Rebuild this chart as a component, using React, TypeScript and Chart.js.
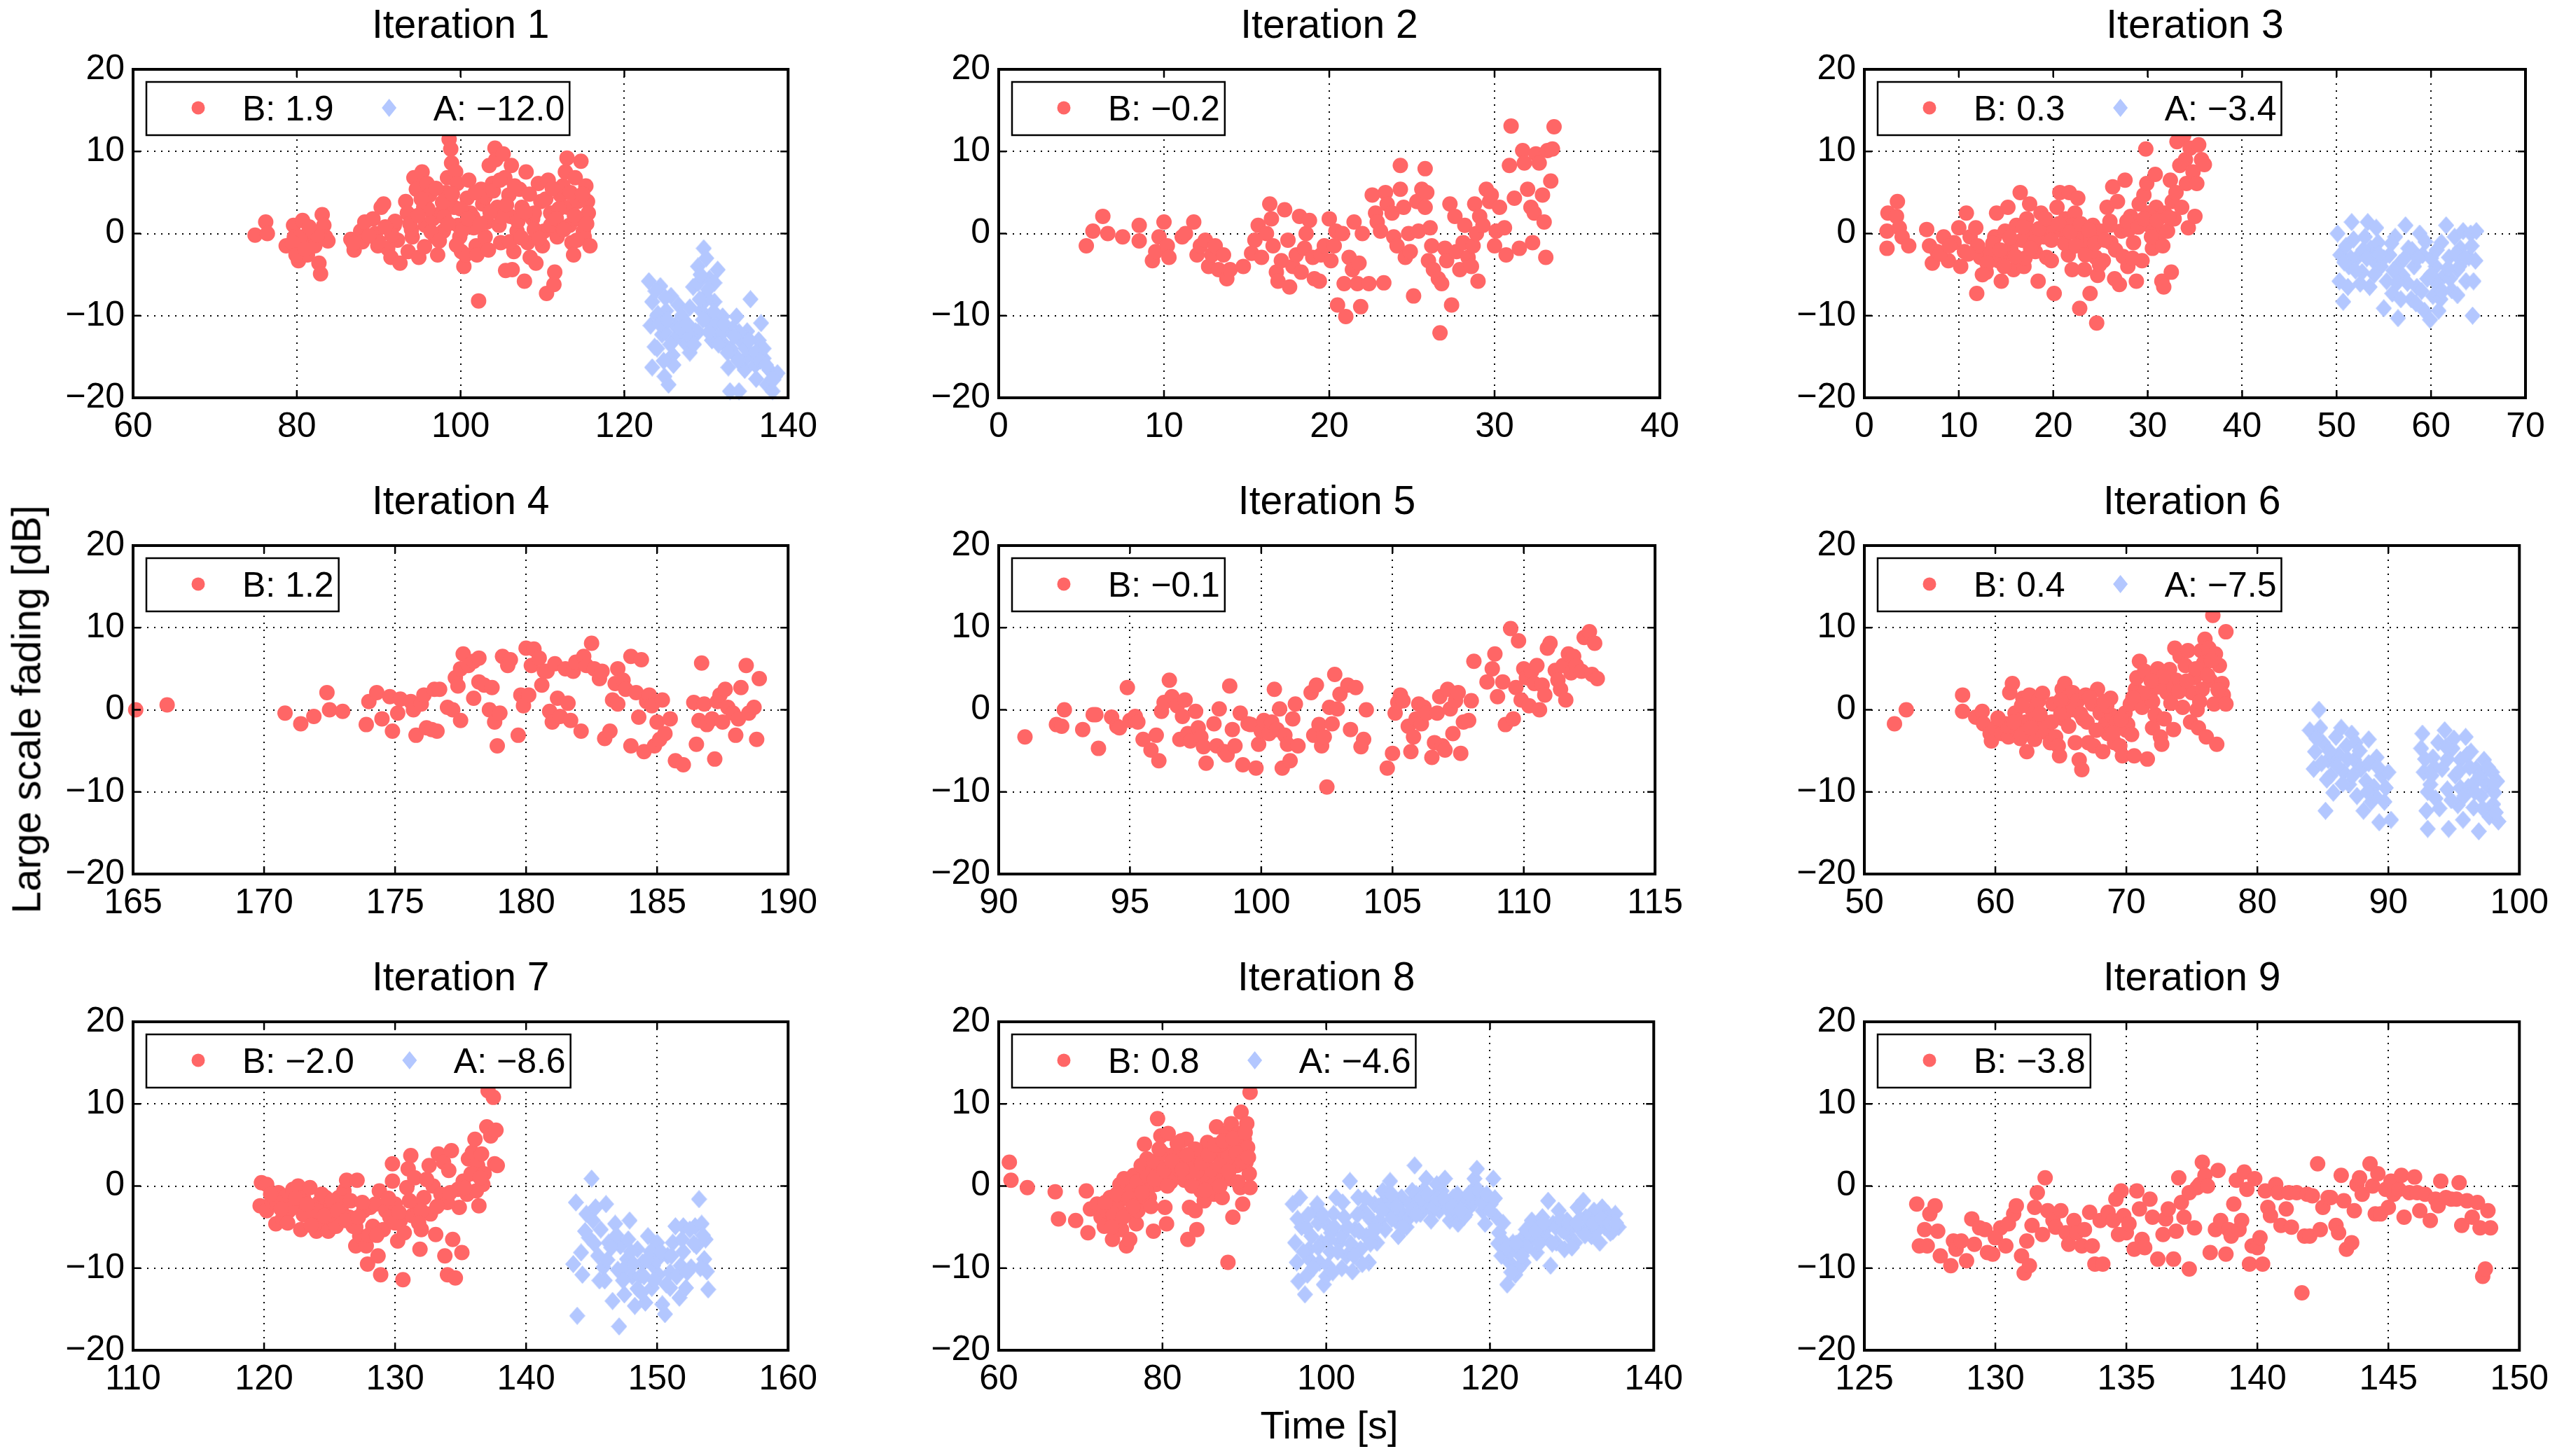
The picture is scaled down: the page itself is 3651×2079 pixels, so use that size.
import { useEffect, useRef } from "react";
import { Chart, registerables, type ChartConfiguration, type Plugin } from "chart.js";

Chart.register(...registerables);

const FONT = '"Liberation Sans", Arial, Helvetica, sans-serif';
const RED = "rgb(255,102,102)";
const BLUE = "rgb(179,199,255)";

// ---- data ----
const titles = ["Iteration 1", "Iteration 2", "Iteration 3", "Iteration 4", "Iteration 5", "Iteration 6", "Iteration 7", "Iteration 8", "Iteration 9"];
const xMins = [60, 0, 0, 165, 90, 50, 110, 60, 125];
const xMaxs = [140, 40, 70, 190, 115, 100, 160, 140, 150];
const xSteps = [20, 10, 10, 5, 5, 10, 10, 20, 5];
const yTicks = [-20, -10, 0, 10, 20];
const bMeans = [1.9, -0.2, 0.3, 1.2, -0.1, 0.4, -2.0, 0.8, -3.8];
const aMeans: (number | null)[] = [-12.0, null, -3.4, null, null, -7.5, -8.6, -4.6, null];

type Pt = [number, number];

const it1B: Pt[] = [
  [74.9, -0.2], [76.2, 1.4], [76.4, 0], [78.7, -1.5], [79.6, 1.0], [79.7, -0.4], [80.0, -1.8], [80.2, -3.3], [80.7, 1.6], [81.0, -0.8],
  [81.3, -2.6], [81.8, 0.3], [82.2, -1.5], [82.7, -3.6], [82.9, -4.9], [83.1, 2.3], [83.3, 1.0], [83.5, -0.4], [83.8, -0.9], [80.4, -0.4], [79.5, -1.1],
  [86.6, -0.7], [87.0, -2.0], [87.8, 0.3], [88.3, 1.4], [89.3, 1.8], [89.6, 0], [89.9, -1.5], [90.3, 3.2], [90.6, 3.6], [91.1, -1.8],
  [91.5, -2.9], [91.9, 1.0], [92.3, -0.8], [92.6, -3.6], [93.3, 3.9], [93.5, 2.5], [93.6, -2.2], [94.1, -0.4], [94.3, 6.8], [94.6, 5.4],
  [94.9, -2.9], [95.3, 7.5], [95.5, 3.2], [95.7, 1.0], [95.9, 6.1], [96.2, 4.7], [96.6, 1.8], [96.9, -0.4], [97.2, -2.6], [97.6, 2.5],
  [97.9, 0.3], [98.2, 5.0], [98.4, 6.8], [98.6, 11.5], [98.8, 10.3], [98.9, 8.6], [99.2, 3.2], [99.4, 7.5], [99.6, 6.1], [99.7, 1.0],
  [99.9, -0.4], [100.1, -2.2], [100.4, -4.0], [100.6, -2.6], [100.8, 4.3], [101.0, 6.5], [101.2, 2.5], [101.6, 0.7], [101.9, -1.5], [102.2, -8.2],
  [102.5, 5.4], [102.7, 3.6], [103.0, -0.4], [103.2, 1.4], [103.5, 8.3], [103.9, 6.1], [104.2, 10.4], [104.3, 9.0], [104.5, 3.2], [104.7, 1.0],
  [104.9, -1.1], [105.2, 9.7], [105.4, 6.8], [105.5, -4.5], [105.9, 4.7], [106.1, 2.1], [106.2, 8.3], [106.3, -4.4], [106.5, -2.2], [106.9, 0.3],
  [107.2, 5.4], [107.5, 3.2], [107.8, -5.8], [108.0, 7.5], [108.2, -1.1], [108.5, -2.9], [108.8, 1.8], [109.2, -3.6], [109.5, 6.1], [109.8, 3.9],
  [110.2, 0.3], [110.5, -7.3], [110.7, 6.5], [111.0, 2.5], [111.4, -6.2], [111.5, -4.7], [111.8, -0.4], [112.2, 4.7], [112.5, 5.8], [112.8, 7.5],
  [113.0, 9.2], [113.1, 3.2], [113.3, 1.0], [113.6, -1.1], [113.8, -2.6], [114.0, 6.8], [114.3, 3.9], [114.5, 1.8], [114.7, 8.8], [115.0, 0.3],
  [115.1, -0.4], [115.3, 5.8], [115.5, 3.9], [115.6, 2.5], [115.8, -1.5],
  [100.0, 3.0], [101.5, 2.0], [103.0, 4.5], [105.0, 2.0], [107.0, 1.5], [109.0, 2.5], [111.0, 1.0], [112.0, 3.0], [106.0, -1.0], [110.0, -1.5],
  [98.0, 2.0], [96.0, 3.0], [94.0, 0.5], [92.0, 1.5], [90.0, -1.0], [88.0, -1.0],
  [93.8, 1.2], [94.8, 2.2], [95.2, 4.2], [96.4, 0.2], [97.0, 5.5], [97.8, 3.8], [98.5, 1.2], [99.0, 4.8], [100.3, 0.5], [100.9, 1.8],
  [101.8, 5.0], [102.4, 1.2], [103.6, 2.6], [104.0, 5.2], [104.8, 6.5], [105.6, 3.5], [106.6, 5.8], [107.4, -0.5], [107.9, 2.6], [108.4, 4.8],
  [109.0, 0.5], [109.6, -0.6], [110.4, 4.2], [111.2, 5.5], [111.7, 1.8], [112.6, 0.5], [113.4, 5.0], [113.9, 2.2], [114.2, -0.8], [114.9, 4.8],
  [115.4, 1.2], [102.0, -2.6], [103.4, -2.0], [99.5, -1.4], [97.4, -0.9], [95.6, -1.6], [91.6, -0.2], [90.8, 0.8], [88.8, -0.3], [86.9, -1.2],
  [82.5, -0.2], [81.5, 0.8], [79.9, -2.6], [81.0, -1.9],
];
const it1A: Pt[] = [
  [123.0, -5.8], [123.2, -11.2], [123.4, -16.3], [123.4, -8.3], [123.7, -13.8], [124.1, -9.8], [124.4, -6.4], [124.6, -12.3], [124.9, -17.4], [125.1, -9.4],
  [125.4, -18.4], [125.7, -7.6], [125.9, -14.8], [126.2, -11.2], [126.6, -8.7], [127.1, -12.3], [127.5, -13.4], [128.0, -14.5], [128.4, -6.5], [128.7, -11.9],
  [129.0, -4.0], [129.4, -9.4], [129.7, -1.8], [129.9, -7.6], [130.0, -10.5], [130.4, -5.5], [130.7, -13.0], [131.0, -8.3], [131.4, -4.4], [131.7, -12.3],
  [132.0, -10.1], [132.4, -13.7], [132.7, -16.3], [132.9, -19.2], [133.2, -11.6], [133.5, -14.8], [133.7, -10.1], [134.0, -19.2], [134.4, -13.3], [134.7, -16.6],
  [135.0, -11.9], [135.4, -8.0], [135.7, -14.8], [136.1, -17.7], [136.4, -13.0], [136.7, -10.9], [137.0, -15.2], [137.4, -18.4], [137.7, -16.6], [138.1, -19.2],
  [138.4, -17.4], [138.7, -17.0],
  [124.0, -10.0], [125.0, -12.0], [126.0, -13.0], [127.0, -10.0], [128.0, -9.0], [129.0, -12.0], [130.0, -8.0], [131.0, -11.0], [132.0, -12.0], [133.0, -14.0],
  [134.0, -12.0], [135.0, -15.0], [136.0, -16.0], [137.0, -14.0], [131.0, -6.0], [130.0, -3.0], [129.0, -6.0], [128.0, -12.5], [126.0, -16.0], [124.0, -14.0],
  [123.8, -7.0], [124.3, -11.0], [125.3, -10.5], [125.6, -13.5], [126.8, -11.5], [127.7, -11.0], [128.5, -13.5], [129.2, -8.0], [129.6, -10.5], [130.3, -12.0],
  [130.9, -9.5], [131.5, -13.5], [132.2, -11.0], [132.6, -14.5], [133.4, -12.5], [133.9, -15.5], [134.8, -14.0], [135.3, -13.0], [136.0, -14.5], [136.6, -15.5],
  [137.3, -16.0], [138.2, -17.8], [124.8, -15.5], [125.0, -7.8], [129.3, -5.0], [130.2, -6.8],
];

const it2B: Pt[] = [
  [5.3, -1.5], [5.7, 0.3], [6.3, 2.1], [6.6, 0], [7.5, -0.4], [8.5, 1.0], [8.5, -0.9], [9.3, -3.3], [9.5, -2.2], [9.7, -0.4],
  [10.0, 1.4], [10.2, -1.5], [10.3, -2.9], [11.1, -0.4], [11.3, 0], [11.8, 1.4], [12.0, -2.6], [12.2, -1.5], [12.5, -0.8], [12.7, -4.0],
  [12.9, -2.6], [13.1, -1.5], [13.3, -4.4], [13.6, -2.6], [13.8, -5.5], [14.0, -4.4], [14.8, -4.0], [15.3, -2.4], [15.5, -0.8], [15.7, 1.0],
  [15.9, -2.9], [16.2, 0], [16.4, 3.6], [16.5, 1.8], [16.6, -1.5], [16.8, -4.7], [16.9, -5.8], [17.1, -3.3], [17.3, 2.9], [17.5, -0.8],
  [17.6, -6.5], [17.8, -4.0], [18.0, -2.6], [18.2, 2.1], [18.3, -4.7], [18.5, -1.8], [18.6, 0], [18.8, 1.6], [19.0, -2.9], [19.1, -5.5],
  [19.4, -5.8], [19.5, -2.6], [19.7, -1.5], [20.0, 1.8], [20.1, -3.3], [20.3, -1.5], [20.4, 0.3], [20.5, -8.7], [20.8, 0], [20.9, -6.1],
  [21.0, -10.1], [21.2, -2.9], [21.4, -4.4], [21.5, 1.4], [21.7, -6.1], [21.8, -3.6], [21.9, -8.9], [22.0, 0], [22.4, -6.1], [22.6, 4.7],
  [22.8, 2.5], [22.9, 1.4], [23.1, 0.3], [23.3, -6.0], [23.4, 5.0], [23.5, 3.6], [23.8, 2.5], [23.9, -0.4], [24.1, -1.5], [24.3, 8.3],
  [24.3, 5.4], [24.5, 3.2], [24.6, -2.9], [24.8, 0], [24.9, -2.2], [25.1, -7.6], [25.3, 3.9], [25.4, 0.3], [25.6, 5.4], [25.8, 3.2],
  [25.8, 7.9], [25.9, 5.0], [26.0, -3.3], [26.1, 0.7], [26.2, -1.5], [26.3, -4.4], [26.6, -5.5], [26.7, -12.1], [26.8, -6.1], [27.0, -1.8],
  [27.1, -3.3], [27.3, 3.6], [27.4, -8.7], [27.6, 2.1], [27.7, -2.2], [27.9, -4.4], [28.1, -1.1], [28.2, 1.0], [28.4, -2.9], [28.6, -4.0],
  [28.7, -1.5], [28.8, 3.6], [28.9, 0], [29.0, -5.8], [29.1, 2.1], [29.3, 1.0], [29.5, 5.4], [29.7, 3.9], [29.8, 4.7], [30.0, -1.5],
  [30.1, 0.3], [30.3, 3.2], [30.6, 0.7], [30.7, -2.6], [30.9, 8.3], [31.0, 13.1], [31.2, 4.3], [31.5, -1.8], [31.7, 10.1], [31.8, 8.6],
  [32.0, 5.4], [32.2, 3.2], [32.3, -1.1], [32.4, 2.5], [32.5, 9.7], [32.7, 8.6], [32.9, 4.7], [33.0, 1.4], [33.1, -2.9], [33.2, 10.1],
  [33.4, 6.4], [33.5, 10.3], [33.6, 13.0],
];

const it3B: Pt[] = [
  [2.4, 0.3], [2.4, -1.8], [2.5, 2.5], [3.4, 2.1], [3.5, 3.9], [3.7, 0.7], [4.0, -0.4], [4.7, -1.5], [6.6, 0.5], [6.9, -1.5],
  [7.2, -3.6], [7.7, -2.2], [8.4, -0.4], [8.9, -3.3], [9.5, -1.1], [10.0, 0.7], [10.2, -4.0], [10.6, -2.2], [10.8, 2.5], [11.2, -0.4],
  [11.8, 0.7], [11.9, -7.3], [12.3, -2.9], [12.9, -4.7], [13.4, -2.2], [13.8, -0.4], [14.0, 2.5], [14.2, -3.3], [14.5, -5.8], [14.9, 0.3],
  [15.2, 3.2], [15.5, -1.8], [15.8, -4.4], [16.1, 1.0], [16.5, 5.0], [16.7, -0.8], [16.9, -4.0], [17.2, 1.8], [17.5, 3.6], [17.8, 0.3],
  [18.1, -2.2], [18.4, -5.8], [18.7, 2.5], [19.0, -0.4], [19.3, -2.9], [19.5, 1.0], [19.8, -3.3], [20.1, -7.3], [20.4, 3.2], [20.7, 5.0],
  [21.0, 0.3], [21.3, 1.8], [21.6, -2.6], [21.7, 5.0], [22.0, -4.4], [22.3, 2.5], [22.6, 4.3], [22.8, -9.1], [23.0, -0.4], [23.3, -4.4],
  [23.6, -1.8], [23.9, -7.3], [24.2, 1.0], [24.5, -2.9], [24.6, -10.9], [24.7, -5.1], [25.0, 0.3], [25.3, -3.3], [25.7, 3.2], [26.1, -1.1],
  [26.3, 5.7], [26.5, -5.5], [26.8, 3.9], [27.0, -6.2], [27.2, 0.3], [27.6, 6.5], [27.9, -4.0], [28.2, 2.1], [28.5, -1.1], [28.8, -5.8],
  [29.1, 3.6], [29.4, -3.3], [29.6, 4.7], [29.8, 10.3], [29.9, 6.1], [30.2, 1.0], [30.5, -1.8], [30.8, 7.2], [30.9, 3.2], [31.3, 0],
  [31.5, -5.8], [31.7, -6.5], [31.8, 2.5], [32.1, 0.3], [32.4, 6.5], [32.5, -4.7], [32.6, 3.9], [32.8, 1.8], [33.0, 5.0], [33.1, 11.2],
  [33.4, 8.3], [33.6, 3.2], [33.8, 11.9], [34.0, 9.0], [34.1, 6.1], [34.3, 0.7], [34.5, 10.4], [34.8, 7.5], [35.0, 2.1], [35.2, 6.1],
  [35.4, 10.8], [35.7, 9.0], [36.0, 8.4],
  [12.0, -1.5], [15.0, -2.5], [18.0, -1.0], [20.0, 0.5], [22.0, 1.0], [24.0, -0.5], [26.0, 1.5], [28.0, 0.5], [30.0, 2.5], [17.0, -3.0],
  [13.0, -3.6], [13.6, -1.2], [14.4, -2.0], [15.4, -0.5], [16.0, -2.8], [16.8, 0.8], [17.6, -1.8], [18.5, 0.6], [19.2, 1.8], [19.8, -0.8],
  [20.6, 1.2], [21.2, -1.2], [21.8, 0.2], [22.4, -1.5], [22.9, 1.2], [23.4, -2.6], [23.8, 0.4], [24.4, -1.2], [24.9, -3.8], [25.5, -0.8],
  [26.0, 1.0], [26.6, -2.0], [27.4, -2.8], [27.8, 1.5], [28.4, -3.0], [29.0, 0.8], [29.6, 1.8], [30.4, -0.4], [31.0, 1.6], [31.6, -1.5],
  [32.2, 2.0], [8.0, -2.5], [9.0, -1.5], [11.0, -2.5], [12.5, -5.0], [14.8, -4.0],
];
const it3A: Pt[] = [
  [50.1, 0], [50.3, -5.8], [50.4, -2.6], [50.7, -8.3], [51.0, -1.5], [51.3, -4.0], [51.6, 1.4], [51.8, -0.7], [52.2, -2.9], [52.5, -6.1],
  [52.7, -4.7], [53.0, -0.4], [53.3, 1.4], [53.6, -1.8], [53.9, -3.3], [54.2, 0.7], [54.4, -1.1], [54.7, -4.0], [55.0, -9.1], [55.3, -5.8],
  [55.6, -2.6], [55.9, -7.3], [56.2, -0.4], [56.5, -10.3], [56.7, -3.6], [57.0, -5.1], [57.3, 1.0], [57.6, -1.8], [57.9, -8.0], [58.2, -4.0],
  [58.5, -6.5], [58.8, 0], [59.1, -2.6], [59.3, -9.4], [59.6, -5.5], [59.9, -10.5], [60.2, -7.6], [60.5, -4.0], [60.8, -9.4], [61.1, -1.1],
  [61.4, -5.1], [61.6, 1.0], [61.9, -2.9], [62.2, -6.9], [62.5, -0.4], [62.8, -4.4], [63.1, -1.8], [63.4, 0.3], [63.7, -5.8], [64.0, -2.9],
  [64.2, 0], [64.4, -10.0], [64.5, -5.8], [64.8, 0.3], [64.7, -3.3],
  [51.5, -3.0], [52.8, -2.0], [54.0, -5.0], [55.0, -3.0], [56.0, -4.5], [57.5, -6.0], [58.0, -2.0], [59.0, -7.0], [60.0, -3.0], [61.0, -8.0],
  [62.0, -5.5], [63.0, -4.0], [60.5, -6.0], [53.5, -6.5],
  [50.8, -3.5], [51.2, -6.5], [52.0, -4.5], [53.2, -3.0], [54.5, -2.5], [55.8, -1.2], [56.4, -6.0], [57.2, -3.0], [58.6, -3.0], [59.4, -1.0],
  [60.0, -5.0], [61.8, -4.2], [62.6, -2.5], [63.6, -3.0], [64.3, -1.5], [61.2, -7.0], [58.4, -8.5], [56.8, -8.0], [62.8, -7.5], [60.6, -2.0],
];

const it4B: Pt[] = [
  [165.1, 0], [166.3, 0.6], [170.8, -0.4], [171.4, -1.7], [171.9, -0.8], [172.4, 2.1], [172.5, 0], [173.0, -0.2], [173.9, -1.8], [174.0, 1.0],
  [174.3, 2.1], [174.5, -1.1], [174.8, 1.6], [174.9, -2.6], [175.1, -0.4], [175.2, 1.3], [175.6, 1.0], [175.7, 0], [175.8, -3.1], [176.0, 0.7],
  [176.1, 1.8], [176.2, -2.2], [176.4, -2.4], [176.5, 2.5], [176.6, -2.6], [176.7, 2.5], [177.0, 0.3], [177.2, 0], [177.3, 3.9], [177.4, 2.9],
  [177.5, -1.3], [177.5, 5.0], [177.6, 6.8], [177.8, 5.4], [178.0, 5.9], [178.0, 1.4], [178.2, 6.3], [178.2, 3.4], [178.4, 3.0], [178.6, 0],
  [178.7, 2.7], [178.8, -1.5], [178.9, -4.4], [179.0, -0.4], [179.1, 6.5], [179.3, 5.4], [179.4, 6.1], [179.7, -3.1], [179.8, 1.8], [179.9, 0.5],
  [180.0, 7.5], [180.1, 1.8], [180.2, 5.4], [180.3, 7.4], [180.5, 6.3], [180.6, 3.0], [180.7, 4.7], [180.8, 4.7], [180.9, -0.2], [181.0, -1.5],
  [181.1, 5.6], [181.2, 1.4], [181.3, -0.8], [181.5, 5.0], [181.6, 0.8], [181.7, -1.3], [181.8, 4.7], [181.9, 5.8], [182.1, -2.6], [182.2, 6.5],
  [182.3, 5.4], [182.5, 8.1], [182.6, 5.0], [182.8, 3.8], [182.9, 4.7], [183.0, -3.5], [183.2, -2.6], [183.3, 1.2], [183.4, 3.2], [183.5, 5.0],
  [183.5, 0.7], [183.7, 3.6], [183.8, 2.5], [184.0, -4.4], [184.0, 6.5], [184.2, 2.1], [184.3, -0.9], [184.4, 6.1], [184.5, -5.1], [184.6, 1.0],
  [184.7, 1.8], [184.8, 0.5], [184.9, -4.4], [185.0, -1.5], [185.1, -3.6], [185.2, 1.2], [185.3, -2.9], [185.5, -1.1], [185.7, -6.2], [186.0, -6.7],
  [186.4, 0.9], [186.5, -4.2], [186.6, -1.3], [186.7, 5.7], [186.8, 0.7], [186.9, -1.8], [187.1, -1.1], [187.2, -6.0], [187.3, 1.0], [187.4, 1.8],
  [187.5, -1.5], [187.6, 2.5], [187.7, 0.3], [187.9, -0.4], [188.0, -3.1], [188.1, -1.1], [188.2, 2.7], [188.4, 5.4], [188.5, -0.4], [188.7, 0.3],
  [188.8, -3.6], [188.9, 3.8],
];

const it5B: Pt[] = [
  [91.0, -3.3], [92.2, -1.8], [92.4, -2.0], [92.5, 0], [93.2, -2.4], [93.6, -0.6], [93.7, -0.6], [93.8, -4.7], [94.3, -0.9], [94.5, -2.0],
  [94.6, -2.2], [94.9, 2.7], [95.0, -1.3], [95.2, -0.8], [95.3, -1.5], [95.5, -3.6], [95.8, -4.9], [96.0, -3.1], [96.1, -6.2], [96.2, -0.2],
  [96.3, 0.9], [96.5, 3.6], [96.6, 1.6], [96.8, 0.5], [96.9, -3.6], [97.0, -0.8], [97.1, 1.2], [97.2, -2.9], [97.3, -3.8], [97.5, -0.2],
  [97.6, -2.2], [97.7, -3.3], [97.8, -4.5], [97.9, -6.5], [98.2, -1.7], [98.3, -4.4], [98.4, 0.1], [98.6, -5.1], [98.7, -5.5], [98.8, 2.9],
  [98.9, -2.4], [99.0, -4.4], [99.2, -0.4], [99.3, -6.7], [99.5, -1.7], [99.6, -1.8], [99.8, -7.1], [99.9, -4.2], [100.0, -2.6], [100.1, -1.3],
  [100.3, -2.9], [100.4, -1.5], [100.5, 2.5], [100.6, -2.4], [100.7, 0.1], [100.8, -7.1], [100.9, -3.1], [101.0, -4.2], [101.1, -6.2], [101.2, -1.1],
  [101.3, 0.7], [101.4, -4.4], [101.9, 2.1], [102.0, -3.1], [102.1, 3.0], [102.2, -1.8], [102.3, -4.4], [102.4, -3.3], [102.5, -9.4], [102.6, 0.3],
  [102.7, -1.7], [102.8, 4.3], [102.9, 0.1], [103.0, 1.9], [103.3, 3.0], [103.4, -2.4], [103.6, 2.7], [103.8, -4.5], [103.9, -3.6], [104.0, 0],
  [104.8, -7.1], [105.0, -5.3], [105.1, -0.4], [105.2, 0.9], [105.3, 1.8], [105.4, 1.1], [105.6, -2.0], [105.7, -5.1], [105.8, -3.3], [105.9, -1.1],
  [106.0, 0.7], [106.1, -1.7], [106.2, 0.3], [106.3, -0.4], [106.5, -5.8], [106.6, -4.0], [106.7, -0.4], [106.8, 1.6], [106.9, -4.4], [107.0, -4.9],
  [107.1, 2.5], [107.2, 0.1], [107.3, -2.9], [107.4, 1.1], [107.5, 2.1], [107.6, -5.3], [107.7, -1.5], [107.9, -1.3], [108.0, 1.1], [108.1, 5.9],
  [108.6, 3.4], [108.8, 5.0], [108.9, 6.8], [109.0, 1.6], [109.2, 3.4], [109.3, -1.8], [109.5, 9.9], [109.6, -1.1], [109.7, 2.7], [109.8, 8.4],
  [109.9, 1.2], [110.0, 5.0], [110.1, 3.9], [110.2, 0.5], [110.3, 4.7], [110.4, 3.2], [110.5, 5.4], [110.6, 0], [110.7, 3.0], [110.8, 1.8],
  [110.9, 7.5], [111.0, 8.1], [111.2, 4.8], [111.3, 3.6], [111.4, 2.5], [111.5, 5.4], [111.6, 1.2], [111.7, 6.8], [111.8, 4.5], [111.9, 6.5],
  [112.0, 5.4], [112.2, 4.7], [112.3, 8.8], [112.5, 9.5], [112.6, 4.3], [112.7, 8.1], [112.8, 3.8],
];

const it6B: Pt[] = [
  [52.3, -1.7], [53.2, 0], [57.5, 1.8], [57.5, -0.2], [58.5, -0.9], [59.0, -0.2], [59.1, -1.7], [59.6, -2.9], [59.7, -3.8], [60.0, -2.2],
  [60.5, -2.9], [60.8, -1.7], [61.0, -3.3], [61.1, 2.1], [61.3, 3.2], [61.5, -0.4], [61.7, -2.6], [61.9, -3.5], [62.1, 1.4], [62.3, -1.5],
  [62.4, -5.1], [62.6, 1.8], [62.8, 0], [63.0, -3.6], [63.1, -1.1], [63.3, 1.1], [63.6, 2.0], [63.8, -1.5], [64.0, -2.9], [64.2, -4.0],
  [64.4, 0.7], [64.6, -3.3], [64.8, -4.4], [64.9, -5.6], [65.1, 2.5], [65.2, -1.1], [65.3, 3.2], [65.5, 0.7], [65.7, 0], [65.9, 2.1],
  [66.1, -4.0], [66.3, 1.1], [66.4, -6.1], [66.6, -7.3], [66.7, -1.1], [66.9, 1.8], [67.1, -4.0], [67.4, 0.7], [67.5, -4.4], [67.8, 2.5],
  [68.0, -0.4], [68.2, -5.1], [68.4, -1.8], [68.6, -2.9], [68.8, 1.4], [68.9, -0.7], [69.1, -4.0], [69.3, -1.5], [69.5, -4.4], [69.7, -5.6],
  [69.9, -0.4], [70.1, -1.8], [70.3, 0.7], [70.6, -5.6], [70.7, 2.5], [70.8, 3.9], [71.0, 5.9], [71.2, 0.3], [71.4, 4.7], [71.6, -6.0],
  [71.8, 1.8], [72.0, -2.2], [72.2, -0.6], [72.4, 5.0], [72.6, -3.3], [72.7, -4.2], [72.9, -1.1], [73.1, 2.1], [73.3, 4.9], [73.6, -2.4],
  [73.7, 7.5], [73.8, 3.6], [74.1, 6.5], [74.3, 0.3], [74.5, 5.4], [74.7, 7.2], [74.9, -1.5], [75.0, 2.1], [75.2, 3.9], [75.4, 0],
  [75.5, -2.2], [75.7, 7.2], [75.8, 2.5], [75.9, 5.7], [76.0, 8.6], [76.1, -3.3], [76.3, 7.5], [76.4, 3.6], [76.6, 11.5], [76.7, 0.7],
  [76.8, 6.8], [76.9, -4.2], [77.1, 5.4], [77.3, 3.2], [77.4, 1.8], [77.6, 9.5], [77.6, 0.7],
  [61.0, -2.0], [62.0, -3.0], [63.5, -2.5], [65.0, -0.5], [66.0, 0], [67.0, -1.5], [68.5, 0.5], [70.0, -2.5], [72.0, 1.0], [73.0, 3.0],
  [60.2, -1.0], [61.4, -1.5], [62.0, 0.5], [62.7, -2.2], [63.4, -0.5], [64.3, -1.5], [65.0, 1.2], [65.6, -2.0], [66.5, -0.5], [67.2, 1.5],
  [67.7, -2.5], [68.3, 1.0], [69.0, -2.8], [69.6, -1.2], [70.4, -3.0], [71.3, 2.0], [72.5, 2.8], [73.4, 0.8], [74.0, 2.2], [74.6, 3.5],
  [75.3, 5.0], [75.6, 1.0], [76.2, 4.2], [76.5, 6.0], [77.0, 2.4], [72.8, 4.0], [71.9, 3.5], [70.5, 1.5],
];
const it6A: Pt[] = [
  [84.7, 0], [84.0, -2.5], [84.3, -7.2], [84.4, -5.1], [84.8, -2.2], [85.0, -4.0], [85.2, -12.3], [85.4, -6.1], [85.6, -8.0], [85.8, -10.1],
  [86.0, -3.3], [86.2, -5.5], [86.4, -2.2], [86.6, -7.6], [86.8, -4.4], [87.0, -9.1], [87.2, -2.9], [87.4, -6.1], [87.6, -10.5], [87.9, -7.2],
  [88.1, -12.3], [88.3, -8.7], [88.5, -3.6], [88.7, -11.2], [88.9, -9.4], [89.1, -5.8], [89.3, -13.7], [89.5, -8.0], [89.7, -11.2], [90.0, -7.6],
  [90.2, -13.4], [92.6, -2.9], [92.5, -4.7], [92.7, -7.6], [92.9, -12.3], [93.0, -14.5], [93.2, -9.1], [93.4, -5.8], [93.6, -10.8], [93.8, -4.0],
  [94.1, -7.2], [94.3, -2.5], [94.5, -9.7], [94.6, -14.5], [94.9, -4.7], [95.1, -8.0], [95.3, -11.6], [95.5, -6.1], [95.7, -13.4], [95.9, -3.3],
  [96.1, -9.4], [96.3, -5.1], [96.5, -11.9], [96.7, -7.2], [96.9, -14.8], [97.1, -10.5], [97.3, -6.1], [97.5, -9.1], [97.7, -13.0], [97.9, -7.6],
  [98.1, -10.1], [98.3, -8.7], [98.4, -13.6],
  [85.5, -5.0], [86.5, -9.0], [87.5, -4.0], [88.5, -6.5], [89.0, -10.5], [93.5, -7.0], [94.5, -6.0], [95.5, -9.5], [96.5, -9.0], [97.0, -8.0],
  [98.0, -11.5], [93.0, -10.0], [95.0, -3.5], [96.0, -5.5],
  [84.5, -3.5], [85.3, -8.5], [86.1, -6.8], [86.9, -6.0], [87.3, -8.0], [87.8, -5.0], [88.4, -10.0], [89.2, -7.0], [89.8, -9.5], [84.9, -6.5],
  [92.8, -6.0], [93.3, -8.0], [93.9, -12.0], [94.4, -4.5], [94.8, -11.0], [95.4, -7.5], [95.8, -10.5], [96.2, -7.0], [96.6, -10.0], [97.2, -12.0],
  [97.6, -7.0], [98.0, -9.0], [98.2, -12.5],
];

const it7B: Pt[] = [
  [119.8, 0.4], [120.2, 0.2], [119.7, -2.4], [120.2, -3.0], [120.6, -1.8], [120.9, -4.6], [121.1, -0.8], [121.4, -4.0], [121.7, -1.2], [121.9, -3.0],
  [122.2, -0.4], [122.5, -2.2], [122.6, 0], [122.8, -5.3], [123.0, -1.4], [123.2, -3.0], [123.5, -0.2], [123.8, -4.1], [124.0, -5.5], [124.2, -2.0],
  [124.5, -4.6], [124.7, -1.4], [124.9, -5.5], [125.1, -2.6], [125.3, -4.2], [125.5, -4.9], [125.7, -1.4], [125.9, -3.0], [126.1, -0.6], [126.3, 0.7],
  [126.5, -3.8], [126.8, -4.9], [127.0, -7.3], [127.1, 0.7], [127.3, -6.1], [127.6, -3.0], [127.8, -7.3], [127.9, -9.5], [128.1, -2.6], [128.3, -4.9],
  [128.5, -2.2], [128.7, -8.5], [128.8, -0.6], [128.9, -10.8], [129.1, -5.3], [129.3, -3.0], [129.6, -3.8], [129.8, 2.7], [129.8, 0.6], [130.0, -2.2],
  [130.2, -6.7], [130.4, -4.2], [130.6, -11.4], [130.7, -5.7], [130.9, -0.2], [131.0, 2.1], [131.2, 3.7], [131.3, -3.6], [131.5, 1.0], [131.7, -2.6],
  [131.9, -7.7], [132.0, -5.3], [132.2, -1.4], [132.6, 2.5], [132.7, -3.4], [132.9, 0], [133.1, -5.9], [133.3, 3.9], [133.5, -1.0], [133.7, 2.9],
  [133.8, -8.5], [134.0, -10.8], [134.1, 1.9], [134.3, 4.3], [134.4, -6.5], [134.6, -11.2], [134.8, -0.4], [134.9, -2.6], [135.1, -8.1], [135.2, 0.6],
  [135.5, -1.0], [135.6, 3.3], [135.9, 4.1], [136.1, 5.7], [136.2, -0.6], [136.3, 2.5], [136.4, -2.4], [136.6, 3.9], [136.7, 0.2], [136.8, 1.5],
  [137.0, 7.2], [137.1, 11.6], [137.3, 6.1], [137.5, 10.8], [137.6, 2.7], [137.7, 6.8], [137.8, 2.5],
  [123.0, -3.5], [124.0, -3.0], [125.0, -3.5], [126.0, -2.0], [122.0, -2.8], [121.0, -2.0], [127.0, -5.0], [128.0, -6.0], [130.0, -4.5], [132.0, -3.0], [134.0, -2.0],
  [120.5, -1.0], [121.3, -2.8], [121.8, -4.5], [122.4, -1.5], [123.3, -2.2], [123.6, -4.8], [124.4, -1.0], [124.6, -3.6], [125.2, -1.8], [125.6, -3.0],
  [126.2, -4.2], [126.6, -1.8], [127.2, -3.8], [127.5, -2.0], [128.6, -6.0], [129.5, -1.5], [130.3, -3.2], [131.1, -1.8], [131.8, -4.5], [132.4, 0.8],
  [133.2, -2.5], [134.2, -0.8], [135.3, -0.2], [135.8, 1.5], [136.5, 1.0],
];
const it7A: Pt[] = [
  [145.0, 0.9], [143.8, -2.0], [143.6, -9.5], [143.9, -15.8], [144.2, -8.1], [144.3, -10.8], [144.6, -3.4], [144.8, -6.3], [145.1, -4.2], [145.3, -2.6],
  [145.5, -8.5], [145.7, -5.3], [145.9, -9.9], [146.1, -2.2], [146.3, -6.9], [146.6, -14.0], [146.8, -4.6], [147.0, -10.2], [147.1, -17.1], [147.2, -7.3],
  [147.5, -13.2], [147.7, -8.9], [147.9, -4.2], [148.1, -11.0], [148.3, -14.6], [148.5, -7.7], [148.7, -11.0], [148.9, -9.3], [149.1, -14.2], [149.3, -6.1],
  [149.6, -12.4], [149.7, -9.7], [150.0, -6.9], [150.1, -10.8], [150.4, -14.4], [150.6, -15.6], [150.8, -8.5], [151.0, -12.4], [151.2, -6.9], [151.4, -4.9],
  [151.7, -13.6], [151.8, -9.7], [152.0, -4.9], [152.2, -12.4], [152.5, -5.3], [152.6, -9.9], [152.9, -4.9], [153.0, -7.3], [153.2, -1.6], [153.4, -4.6],
  [153.6, -8.9], [153.7, -6.5], [153.8, -10.4], [153.9, -12.6],
  [146.5, -7.5], [147.5, -10.0], [148.0, -8.0], [149.0, -11.0], [150.0, -9.0], [151.0, -10.5], [149.5, -8.0], [148.5, -12.5], [152.0, -8.0], [146.0, -11.5],
  [144.5, -5.5], [145.2, -7.0], [145.6, -11.5], [146.2, -9.0], [146.9, -6.0], [147.4, -11.5], [147.8, -6.5], [148.2, -9.5], [148.8, -13.0], [149.2, -9.0],
  [149.8, -11.5], [150.3, -8.0], [150.7, -12.0], [151.1, -8.5], [151.5, -11.0], [151.9, -6.5], [152.3, -10.5], [152.8, -7.0], [153.3, -10.0], [153.5, -6.0],
];

const it8B: Pt[] = [
  [61.3, 2.9], [61.5, 0.7], [63.5, -0.2], [66.9, -0.7], [67.3, -4.0], [69.4, -4.2], [70.7, -0.6], [70.9, -5.7], [71.2, -2.8], [72.0, -2.2],
  [72.5, -3.8], [72.9, -4.9], [73.2, -3.0], [73.6, -1.4], [73.9, -6.5], [74.1, -4.2], [74.5, -2.6], [74.8, 0.2], [75.0, -5.3], [75.3, 0.9],
  [75.6, -7.3], [75.8, -3.4], [76.0, -6.5], [76.2, -0.6], [76.5, 1.3], [76.8, -4.6], [77.0, -1.8], [77.4, 2.5], [77.6, 0.2], [77.8, 5.1],
  [78.1, 3.3], [78.4, -1.4], [78.7, 1.7], [78.9, -5.5], [79.2, 0.2], [79.4, 8.2], [79.5, 2.5], [79.8, 6.1], [80.1, 0.9], [80.3, -2.6],
  [80.5, -4.6], [80.7, 6.4], [80.9, 3.7], [81.7, 4.1], [82.0, 1.3], [82.3, 5.5], [82.7, 0.7], [82.9, 5.7], [83.1, -6.5], [83.3, -2.6],
  [83.5, 3.3], [83.8, 2.5], [84.0, -3.0], [84.2, -5.3], [84.5, 4.1], [84.7, -0.6], [84.9, 0.9], [85.1, -1.8], [85.3, 3.3], [85.5, 5.3],
  [85.8, 1.7], [86.0, 0.2], [86.2, 3.9], [86.3, -1.0], [86.6, 7.2], [86.8, 1.3], [87.1, 4.5], [87.3, -1.4], [87.6, 3.3], [87.8, 6.4],
  [88.0, -9.3], [88.2, 0.9], [88.4, 7.6], [88.6, -3.8], [88.8, 4.9], [89.1, 2.5], [89.3, 6.4], [89.5, -0.2], [89.6, 9.0], [89.8, -2.2],
  [90.0, 5.7], [90.2, 2.9], [90.3, 7.6], [90.4, 4.7], [90.6, 1.5], [90.7, 11.4], [90.7, -0.2],
  [74.0, -3.5], [75.5, -1.5], [77.0, -3.0], [78.0, 0], [79.0, 3.0], [80.0, 4.0], [81.5, 2.0], [83.0, 1.0], [84.0, 4.5], [85.0, 1.5],
  [86.0, 2.0], [87.0, 0], [88.0, 3.5], [89.0, 4.0], [82.0, 3.0], [81.0, 0.5],
  [73.0, -2.0], [73.8, -5.0], [74.4, -1.0], [75.2, -3.8], [75.9, -1.5], [76.4, -2.5], [76.9, 0.5], [77.5, -0.8], [78.2, 1.2], [78.6, -2.5],
  [79.0, 0.8], [79.6, 4.5], [80.2, 2.0], [80.6, 0], [81.2, 3.0], [81.8, 5.2], [82.4, 2.0], [83.0, 3.8], [83.6, 0], [84.2, 1.8],
  [84.8, 2.8], [85.2, -0.5], [85.6, 3.8], [86.4, 5.0], [87.0, 2.5], [87.4, 5.5], [88.1, 1.8], [88.6, 5.8], [89.2, 0.5], [89.8, 3.0],
  [90.1, 6.5], [90.5, 3.5],
];
const it8A: Pt[] = [
  [95.9, -2.2], [96.2, -6.9], [96.4, -9.3], [96.6, -11.6], [96.8, -1.4], [97.0, -5.0], [97.4, -13.2], [97.7, -10.8], [97.9, -7.7], [98.2, -6.1],
  [98.6, -3.0], [98.9, -2.2], [99.2, -9.3], [99.4, -6.9], [99.7, -12.0], [100.0, -4.6], [100.2, -9.7], [100.6, -5.7], [100.9, -3.4], [101.2, -1.4],
  [101.6, -6.9], [101.9, -10.0], [102.2, -3.8], [102.5, -8.5], [102.9, 0.6], [103.2, -10.4], [103.5, -5.3], [103.9, -1.4], [104.2, -7.7], [104.5, -3.0],
  [104.9, -6.1], [105.2, -9.3], [105.5, -4.2], [105.9, -2.2], [106.2, -6.9], [106.5, -4.2], [106.9, -0.6], [107.2, -5.3], [107.5, -3.0], [107.8, 0.6],
  [108.2, -2.2], [108.5, -4.2], [108.8, -6.1], [109.2, -1.4], [109.5, -3.8], [109.8, -5.0], [110.2, -2.2], [110.5, -0.6], [110.8, 2.5], [111.2, -2.2],
  [111.5, -3.4], [111.8, -0.6], [112.2, 0.9], [112.5, -2.2], [112.8, -4.2], [113.1, -1.4], [113.5, 0.2], [113.8, -3.0], [114.1, -0.6], [114.5, 0.9],
  [114.8, -2.2], [115.1, -4.2], [115.5, -1.4], [115.8, -3.0], [116.1, -4.6], [116.5, -2.2], [116.8, -3.8], [117.1, -1.4], [117.5, -2.6], [117.8, -0.6],
  [118.1, 0.9], [118.4, 2.1], [118.8, -1.4], [119.1, -3.0], [119.4, -4.6], [119.8, -1.4], [120.1, -2.2], [120.4, 0.9], [120.8, -3.8], [121.1, -5.7],
  [121.4, -8.5], [121.8, -6.9], [122.1, -12.0], [122.4, -9.3], [122.8, -6.9], [123.1, -10.8], [123.4, -8.1], [123.8, -6.5], [124.1, -9.3], [124.4, -5.3],
  [124.7, -6.9], [125.1, -4.2], [125.4, -6.1], [125.7, -8.1], [126.1, -5.0], [126.4, -3.8], [126.7, -6.1], [127.1, -1.8], [127.4, -9.7], [127.7, -4.6],
  [128.1, -6.9], [128.4, -3.0], [128.7, -5.3], [129.1, -7.7], [129.4, -4.2], [129.7, -6.1], [130.0, -5.0], [130.4, -6.9], [130.7, -2.6], [131.0, -5.3],
  [131.4, -1.8], [131.7, -3.8], [132.0, -5.0], [132.4, -6.1], [132.7, -3.0], [133.0, -4.2], [133.4, -6.9], [133.7, -2.6], [134.0, -5.0], [134.4, -3.4],
  [134.7, -5.7], [135.0, -4.2], [135.3, -3.4], [135.7, -5.0],
  [97.5, -5.0], [98.0, -9.0], [99.0, -4.5], [100.5, -8.0], [101.0, -5.0], [102.0, -6.0], [103.0, -7.0], [104.0, -5.5], [105.0, -3.5], [106.0, -5.0],
  [107.0, -2.0], [108.0, -4.0], [109.0, -3.0], [110.0, -4.0], [111.0, -1.0], [112.0, -2.5], [113.0, -3.0], [114.0, -2.0], [115.0, -3.0], [116.0, -1.0],
  [117.0, -3.5], [118.0, -2.0], [119.0, -2.0], [120.0, -3.0], [121.0, -7.0], [122.5, -8.0], [123.5, -10.0], [124.5, -7.5], [126.0, -7.0], [127.0, -5.0],
  [128.0, -5.0], [129.0, -5.5], [130.0, -7.5], [131.0, -4.0], [132.0, -4.0], [133.0, -5.5], [134.0, -4.0], [135.0, -5.5], [125.0, -5.0], [100.0, -11.0],
  [96.5, -4.0], [97.2, -8.0], [97.8, -3.5], [98.4, -10.0], [99.0, -7.5], [99.6, -3.5], [100.4, -6.5], [100.8, -10.5], [101.4, -8.0], [102.0, -2.0],
  [102.6, -5.0], [103.4, -8.5], [103.8, -3.5], [104.4, -9.5], [104.8, -1.5], [105.4, -7.0], [105.8, -5.5], [106.4, -2.5], [106.8, -3.0], [107.4, -1.0],
  [108.0, -1.0], [108.6, -2.5], [109.4, -5.0], [110.4, -3.0], [111.0, -3.5], [111.6, -1.5], [112.4, -1.0], [113.2, -2.5], [113.6, -1.5], [114.4, -1.5],
  [115.4, -2.5], [116.4, -3.0], [117.4, -1.0], [118.6, -0.5], [119.6, -1.0], [120.6, -1.5], [121.6, -4.5], [122.0, -7.5], [122.6, -10.5], [123.2, -7.0],
  [123.9, -8.5], [124.6, -5.5], [125.6, -5.5], [126.6, -4.5], [127.6, -7.0], [128.6, -4.0], [129.6, -4.5], [130.6, -4.5], [131.6, -6.0], [132.6, -4.5],
  [133.6, -4.0], [134.6, -4.5], [135.4, -4.5],
];

const it9B: Pt[] = [
  [127.0, -2.2], [127.1, -7.3], [127.3, -5.3], [127.4, -7.3], [127.5, -3.4], [127.7, -2.4], [127.8, -5.5], [127.9, -8.5], [128.3, -9.7], [128.4, -6.7],
  [128.5, -7.7], [128.7, -6.7], [128.9, -9.1], [129.1, -4.0], [129.2, -7.1], [129.4, -5.1], [129.6, -5.3], [129.7, -8.1], [129.9, -8.3], [130.0, -6.3],
  [130.2, -5.1], [130.4, -7.3], [130.5, -4.6], [130.7, -3.4], [130.8, -2.4], [131.0, -8.5], [131.1, -10.6], [131.2, -6.7], [131.3, -9.7], [131.4, -4.8],
  [131.5, -2.6], [131.6, -0.8], [131.8, -5.9], [131.9, 1.0], [132.0, -3.0], [132.2, -4.2], [132.3, -5.0], [132.5, -3.0], [132.7, -5.7], [132.8, -7.1],
  [133.0, -4.2], [133.1, -5.7], [133.3, -7.3], [133.4, -5.3], [133.6, -3.2], [133.7, -7.3], [133.8, -9.5], [134.0, -4.2], [134.1, -9.5], [134.3, -3.2],
  [134.5, -4.2], [134.6, -1.6], [134.7, -5.9], [134.8, -0.6], [134.9, -3.6], [135.0, -5.7], [135.1, -4.6], [135.3, -7.7], [135.4, -0.6], [135.5, -2.8],
  [135.6, -6.5], [135.7, -7.5], [135.9, -1.6], [136.0, -3.8], [136.2, -8.9], [136.4, -5.9], [136.5, -4.0], [136.6, -2.8], [136.8, -8.9], [136.9, -5.5],
  [137.0, 1.0], [137.1, -2.0], [137.2, -3.8], [137.4, -10.1], [137.4, -0.8], [137.6, -5.1], [137.7, -0.2], [137.8, 0.2], [137.9, 2.9], [138.0, 1.3],
  [138.1, 0], [138.2, -8.1], [138.4, -5.3], [138.5, 1.9], [138.6, -4.2], [138.8, -8.3], [138.9, -5.3], [139.0, -6.1], [139.1, -2.2], [139.2, 0.7],
  [139.3, -5.3], [139.4, -4.2], [139.5, 1.7], [139.6, -0.4], [139.7, -9.5], [139.8, -7.3], [139.9, 0.9], [140.0, -7.5], [140.1, -6.3], [140.2, -9.5],
  [140.3, -0.6], [140.4, -2.6], [140.5, -3.6], [140.7, 0.2], [140.8, -0.8], [140.9, -4.8], [141.1, -2.8], [141.2, -0.8], [141.3, -5.0], [141.5, -0.8],
  [141.7, -13.0], [141.8, -6.1], [141.9, -1.0], [142.0, -6.1], [142.1, -1.2], [142.3, 2.7], [142.4, -5.3], [142.5, -2.6], [142.7, -1.4], [142.8, -1.4],
  [143.0, -4.8], [143.1, -5.7], [143.2, 1.3], [143.3, -1.8], [143.4, -7.7], [143.6, -6.9], [143.7, -3.0], [143.8, 0.2], [143.9, 1.0], [144.0, -1.0],
  [144.3, 2.7], [144.4, 0], [144.5, -3.4], [144.6, 1.5], [144.7, -3.4], [144.9, -0.4], [145.0, -2.6], [145.1, 0.6], [145.2, -1.0], [145.4, -0.4],
  [145.5, 1.3], [145.6, -3.8], [145.8, -0.8], [146.0, 1.1], [146.1, -0.8], [146.2, -3.0], [146.4, -1.0], [146.6, -4.2], [146.8, -1.6], [146.9, -2.4],
  [147.0, 0.6], [147.2, -1.4], [147.4, -1.6], [147.6, -1.6], [147.7, 0.4], [147.8, -4.8], [148.0, -1.8], [148.2, -3.8], [148.4, -2.0], [148.5, -5.1],
  [148.6, -11.0], [148.7, -10.1], [148.8, -3.0], [148.9, -5.1],
];

const bSeries: Pt[][] = [it1B, it2B, it3B, it4B, it5B, it6B, it7B, it8B, it9B];
const aSeries: (Pt[] | null)[] = [it1A, null, it3A, null, null, it6A, it7A, it8A, null];

// ---- layout ----
const PLOT_LEFT = [190, 1426, 2662];
const PLOT_TOP = [99, 779, 1459];
const PLOT_W = 944;
const PLOT_H = 469;
const PAD_L = 180;
const PAD_T = 99;
const PAD_R = 45;
const PAD_B = 110;
const CANVAS_W = PAD_L + PLOT_W + PAD_R;
const CANVAS_H = PAD_T + PLOT_H + PAD_B;

const minus = (v: number) => (v < 0 ? "\u2212" + Math.abs(v) : String(v));
const fmtMean = (v: number) => (v < 0 ? "\u2212" : "") + Math.abs(v).toFixed(1);

let diamondImg: HTMLCanvasElement | null = null;
function getDiamond() {
  if (!diamondImg) {
    const w = 23, h = 26;
    const c = document.createElement("canvas");
    c.width = w;
    c.height = h;
    const g = c.getContext("2d")!;
    g.fillStyle = BLUE;
    g.beginPath();
    g.moveTo(w / 2, 0);
    g.lineTo(w, h / 2);
    g.lineTo(w / 2, h);
    g.lineTo(0, h / 2);
    g.closePath();
    g.fill();
    diamondImg = c;
  }
  return diamondImg;
}

// box around the axes with inward tick marks, like the original
const framePlugin: Plugin<"scatter"> = {
  id: "frame",
  afterDatasetsDraw(chart) {
    const { ctx, chartArea: a, scales } = chart;
    const tl = 11;
    ctx.save();
    ctx.strokeStyle = "#000";
    ctx.lineWidth = 2.5;
    ctx.beginPath();
    for (const t of scales.x.ticks) {
      const px = scales.x.getPixelForValue(t.value);
      ctx.moveTo(px, a.bottom);
      ctx.lineTo(px, a.bottom - tl);
      ctx.moveTo(px, a.top);
      ctx.lineTo(px, a.top + tl);
    }
    for (const t of scales.y.ticks) {
      const py = scales.y.getPixelForValue(t.value);
      ctx.moveTo(a.left, py);
      ctx.lineTo(a.left + tl, py);
      ctx.moveTo(a.right, py);
      ctx.lineTo(a.right - tl, py);
    }
    ctx.stroke();
    ctx.lineWidth = 4;
    ctx.strokeRect(a.left, a.top, a.right - a.left, a.bottom - a.top);
    ctx.restore();
  },
};

// legend box drawn inside the plot, top-left
const legendPlugin: Plugin<"scatter"> = {
  id: "insideLegend",
  afterDatasetsDraw(chart, _args, opts: any) {
    const items: { label: string; kind: string }[] = opts.items || [];
    const { ctx, chartArea: a } = chart;
    ctx.save();
    ctx.font = `50px ${FONT}`;
    const boxL = a.left + 19;
    const boxT = a.top + 18;
    const boxH = 76;
    const marks: { x: number; kind: string; label: string; tx: number }[] = [];
    let marker = boxL + 74;
    let end = boxL;
    for (const it of items) {
      const tx = marker + 63;
      marks.push({ x: marker, kind: it.kind, label: it.label, tx });
      end = tx + ctx.measureText(it.label).width;
      marker = end + 79;
    }
    const boxR = end + 7;
    ctx.fillStyle = "#fff";
    ctx.fillRect(boxL, boxT, boxR - boxL, boxH);
    ctx.strokeStyle = "#000";
    ctx.lineWidth = 2.5;
    ctx.strokeRect(boxL, boxT, boxR - boxL, boxH);
    const my = boxT + 37;
    for (const m of marks) {
      if (m.kind === "circle") {
        ctx.fillStyle = RED;
        ctx.beginPath();
        ctx.arc(m.x, my, 9.5, 0, Math.PI * 2);
        ctx.fill();
      } else {
        ctx.fillStyle = BLUE;
        ctx.beginPath();
        ctx.moveTo(m.x, my - 13);
        ctx.lineTo(m.x + 10.5, my);
        ctx.lineTo(m.x, my + 13);
        ctx.lineTo(m.x - 10.5, my);
        ctx.closePath();
        ctx.fill();
      }
      ctx.fillStyle = "#000";
      ctx.textBaseline = "alphabetic";
      ctx.textAlign = "left";
      ctx.fillText(m.label, m.tx, boxT + 55);
    }
    ctx.restore();
  },
};

function Panel({ index }: { index: number }) {
  const ref = useRef<HTMLCanvasElement>(null);
  const col = index % 3;
  const row = Math.floor(index / 3);
  const left = PLOT_LEFT[col] - PAD_L;
  const top = PLOT_TOP[row] - PAD_T;

  useEffect(() => {
    if (!ref.current) return;
    const datasets: any[] = [
      {
        label: "B",
        data: bSeries[index].map(([x, y]) => ({ x, y })),
        pointStyle: "circle",
        pointRadius: 11,
        backgroundColor: RED,
        borderColor: RED,
        borderWidth: 0,
        clip: false,
      },
    ];
    const legendItems = [{ label: "B: " + fmtMean(bMeans[index]), kind: "circle" }];
    const aPts = aSeries[index];
    const aMean = aMeans[index];
    if (aPts && aMean !== null) {
      datasets.push({
        label: "A",
        data: aPts.map(([x, y]) => ({ x, y })),
        pointStyle: getDiamond(),
        pointRadius: 12,
        backgroundColor: BLUE,
        borderColor: BLUE,
        borderWidth: 0,
        clip: false,
      });
      legendItems.push({ label: "A: " + fmtMean(aMean), kind: "diamond" });
    }

    const tickFont = { family: FONT, size: 50 };
    const config = {
      type: "scatter",
      data: { datasets },
      options: {
        responsive: false,
        animation: false,
        devicePixelRatio: 1,
        events: [],
        layout: { padding: { left: 0, top: 4, right: PAD_R, bottom: 0 } },
        plugins: {
          legend: { display: false },
          tooltip: { enabled: false },
          title: {
            display: true,
            text: titles[index],
            fullSize: false,
            color: "#000",
            font: { family: FONT, size: 57, weight: "normal" },
            padding: { top: 0, bottom: 26.6 },
          },
          insideLegend: { items: legendItems },
        },
        scales: {
          x: {
            type: "linear",
            min: xMins[index],
            max: xMaxs[index],
            ticks: {
              stepSize: xSteps[index],
              autoSkip: false,
              maxRotation: 0,
              padding: 12,
              color: "#000",
              font: tickFont,
              callback: (v: any) => minus(Number(v)),
            },
            grid: { color: "#000", lineWidth: 2, drawTicks: false },
            border: { display: false, dash: [2, 8] },
            afterFit: (s: any) => {
              s.height = PAD_B;
            },
          },
          y: {
            type: "linear",
            min: yTicks[0],
            max: yTicks[yTicks.length - 1],
            afterBuildTicks: (s: any) => {
              s.ticks = yTicks.map((v) => ({ value: v }));
            },
            ticks: {
              autoSkip: false,
              padding: 12,
              color: "#000",
              font: tickFont,
              callback: (v: any) => minus(Number(v)),
            },
            grid: { color: "#000", lineWidth: 2, drawTicks: false },
            border: { display: false, dash: [2, 8] },
            afterFit: (s: any) => {
              s.width = PAD_L;
            },
          },
        },
      },
      plugins: [framePlugin, legendPlugin],
    };
    const chart = new Chart(ref.current, config as unknown as ChartConfiguration);
    return () => {
      chart.destroy();
    };
  }, [index]);

  return (
    <canvas
      ref={ref}
      width={CANVAS_W}
      height={CANVAS_H}
      style={{ position: "absolute", left, top, width: CANVAS_W, height: CANVAS_H }}
    />
  );
}

export default function App() {
  useEffect(() => {
    document.body.style.margin = "0";
  }, []);

  return (
    <div
      style={{
        position: "absolute",
        left: 0,
        top: 0,
        width: 3651,
        height: 2079,
        overflow: "hidden",
        background: "#fff",
        fontFamily: FONT,
        color: "#000",
      }}
    >
      {titles.map((_, i) => (
        <Panel key={i} index={i} />
      ))}
      <div
        style={{
          position: "absolute",
          left: 38,
          top: 1013,
          transform: "translate(-50%, -50%) rotate(-90deg)",
          fontSize: 57,
          lineHeight: 1,
          whiteSpace: "nowrap",
        }}
      >
        Large scale fading [dB]
      </div>
      <div
        style={{
          position: "absolute",
          left: 1898,
          top: 2035,
          transform: "translate(-50%, -50%)",
          fontSize: 56,
          lineHeight: 1,
          whiteSpace: "nowrap",
        }}
      >
        Time [s]
      </div>
    </div>
  );
}
